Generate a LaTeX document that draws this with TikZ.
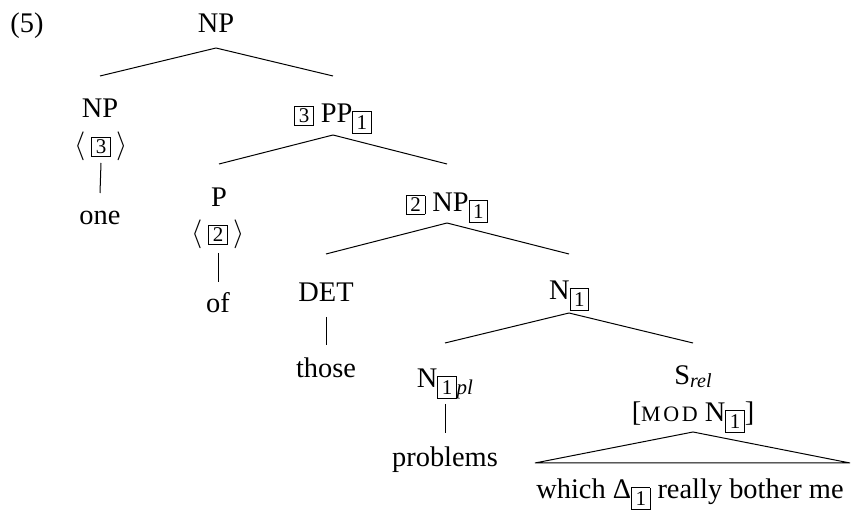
\documentclass[tikz,border=0pt]{standalone}
\usepackage{fontspec}
\setmainfont{Liberation Serif}
% boxed indices
\newcommand{\tagbox}[1]{{\setlength{\fboxsep}{1pt}\fbox{\fontsize{10.5}{10.5}\selectfont\hspace{0.8pt}#1\hspace{0.8pt}}}}
\newcommand{\subbox}[1]{\raisebox{-3.2pt}{\setlength{\fboxsep}{1pt}\fbox{\fontsize{10.5}{10.5}\selectfont\hspace{0.8pt}\rule[-1pt]{0pt}{8.7pt}#1\hspace{0.8pt}}}}
\begin{document}
\begin{tikzpicture}[x=0.5pt,y=-0.5pt,
  lbl/.style={anchor=base,inner sep=0pt,font=\fontsize{14.2}{17}\selectfont},
  branch/.style={line width=0.5pt}]
  \useasboundingbox (0,0) rectangle (853,517);
  \node[lbl] (ex) at (27,33) {(5)};
  \node[lbl] (root) at (216,33) {NP};
    \node[lbl] (np) at (100,118) {NP};
    \node[lbl] (npidx) at (101,154) {$\langle$\hspace{3pt}\tagbox{3}\hspace{3pt}$\rangle$};
    \node[lbl] (one) at (100,225) {one};
    \node[lbl] (pp) at (333,123) {\tagbox{3} PP\subbox{1}};
      \node[lbl] (p) at (219,207) {P};
      \node[lbl] (pidx) at (218,242) {$\langle$\hspace{3pt}\tagbox{2}\hspace{3pt}$\rangle$};
      \node[lbl] (of) at (218,313) {of};
      \node[lbl] (np2) at (447,212) {\tagbox{2} NP\subbox{1}};
        \node[lbl] (det) at (326,302) {DET};
        \node[lbl] (those) at (326,378) {those};
        \node[lbl] (nbar) at (569,300) {N\subbox{1}};
          \node[lbl] (npl) at (445,388) {N\subbox{1}\raisebox{-3.2pt}{\fontsize{10.5}{10.5}\selectfont\itshape pl}};
          \node[lbl] (problems) at (445,467) {problems};
          \node[lbl] (srel) at (693,385) {S\raisebox{-1.5pt}{\fontsize{10}{10}\selectfont\itshape rel}};
          \node[lbl] (mod) at (693,422) {[{\fontsize{11}{11}\selectfont\addfontfeature{LetterSpace=12}MOD} N\subbox{1}]};
          \node[lbl] (which) at (690,499) {which Δ\subbox{1} really bother me};
  % branches
  \draw[branch] ([yshift=-7.5pt]root.base) -- ([yshift=21pt]np.base);
  \draw[branch] ([yshift=-7.5pt]root.base) -- ([yshift=23.5pt]pp.base);
  \draw[branch] ([yshift=-4.5pt]npidx.base) -- ([yshift=16pt]one.base);
  \draw[branch] ([yshift=-6pt]pp.base) -- ([yshift=21.5pt]p.base);
  \draw[branch] ([yshift=-6pt]pp.base) -- ([yshift=24pt]np2.base);
  \draw[branch] ([yshift=-5.5pt]pidx.base) -- ([yshift=15.5pt]of.base);
  \draw[branch] ([yshift=-5.5pt]np2.base) -- ([yshift=24pt]det.base);
  \draw[branch] ([yshift=-5.5pt]np2.base) -- ([yshift=23pt]nbar.base);
  \draw[branch] ([yshift=-7.5pt]det.base) -- ([yshift=16.5pt]those.base);
  \draw[branch] ([yshift=-6.5pt]nbar.base) -- ([yshift=22.5pt]npl.base);
  \draw[branch] ([yshift=-6.5pt]nbar.base) -- ([yshift=21pt]srel.base);
  \draw[branch] ([yshift=-8pt]npl.base) -- ([yshift=17pt]problems.base);
  % roof
  \draw[branch] ([yshift=-5pt]mod.base) -- ([shift={(-77.5pt,18pt)}]which.base)
    -- ([shift={(80pt,18pt)}]which.base) -- cycle;
\end{tikzpicture}
\end{document}
